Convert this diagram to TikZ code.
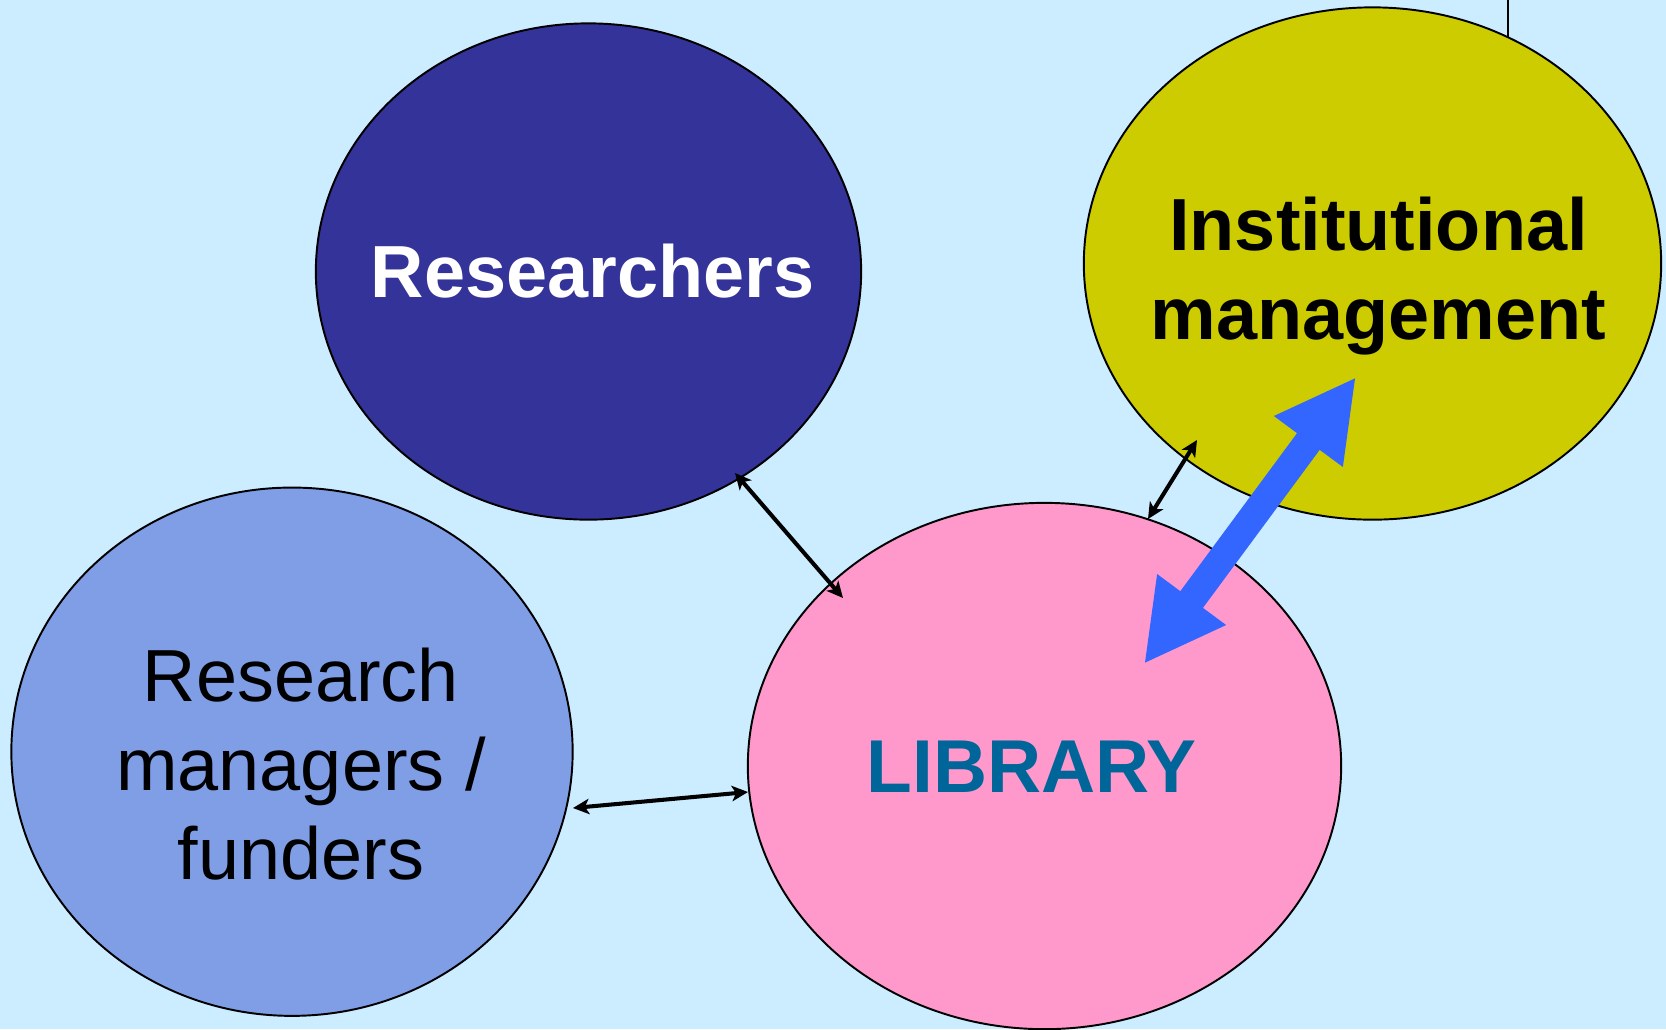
\documentclass[tikz,border=0pt]{standalone}
\usepackage{fontspec}
\setmainfont{Liberation Sans}
\usetikzlibrary{shapes.geometric,arrows.meta}
\definecolor{bg}{HTML}{CCECFF}
\definecolor{resblue}{HTML}{333399}
\definecolor{instyel}{HTML}{CCCC00}
\definecolor{mgrblue}{HTML}{809EE6}
\definecolor{libpink}{HTML}{FF99CC}
\definecolor{arrowblue}{HTML}{3366FF}
\definecolor{libtext}{HTML}{006699}
\begin{document}
\begin{tikzpicture}[x=0.01cm,y=-0.01cm,
  bubble/.style={ellipse,draw=black,line width=0.55pt,inner sep=0pt},
  lbl/.style={inner sep=0pt,align=center,font=\fontsize{21}{25}\selectfont},
  thinarrow/.style={line width=1.15pt,
    {Stealth[length=4.6pt,width=4.4pt,inset=1.2pt]}-{Stealth[length=4.6pt,width=4.4pt,inset=1.2pt]}},
  bigarrow/.style={line width=8pt,arrowblue,
    {Triangle[length=22.8pt,width=22.6pt]}-{Triangle[length=22.8pt,width=22.6pt]}}]
\fill[bg] (0,0) rectangle (1666,1029);
\useasboundingbox (0,0) rectangle (1666,1029);

\node[bubble,fill=resblue,minimum width=5.45cm,minimum height=4.96cm] (res) at (588.5,271.5) {};
\node[bubble,fill=mgrblue,minimum width=5.61cm,minimum height=5.28cm] (mgr) at (292,751.7) {};
\node[bubble,fill=instyel,minimum width=5.77cm,minimum height=5.12cm] (inst) at (1372.5,263.5) {};
\node[bubble,fill=libpink,minimum width=5.93cm,minimum height=5.26cm] (lib) at (1044.5,766) {};

\node[lbl,text=white,font=\fontsize{21}{25}\selectfont\bfseries]
  (rest) at ([shift={(4,0)}]res.center) {Researchers};
\node[lbl,text=black]
  (mgrt) at ([shift={(9,12)}]mgr.center) {Research\\[0.3pt]managers /\\[0.3pt]funders};
\node[lbl,text=black,font=\fontsize{21}{25.3}\selectfont\bfseries]
  (instt) at ([shift={(6,13)}]inst.center) {Institutional\\management};
\node[lbl,text=libtext,font=\fontsize{21.3}{25}\selectfont\bfseries]
  (libt) at ([shift={(-13,1)}]lib.center) {LIBRARY};

\coordinate (vtop) at (1508,0);
\coordinate (vbot) at (1508,37);
\draw[line width=0.6pt] (vtop) -- (vbot);

\coordinate (r1) at (735,473);
\coordinate (l1) at (843,598);
\draw[thinarrow] (r1) -- (l1);

\coordinate (m1) at (573,808);
\coordinate (l2) at (748,792);
\draw[thinarrow] (m1) -- (l2);

\coordinate (i1) at (1197,440);
\coordinate (l3) at (1148,519);
\draw[thinarrow] (i1) -- (l3);

\coordinate (bA) at (1356,377);
\coordinate (bB) at (1144,664);
\draw[bigarrow] (bB) -- (bA);
\end{tikzpicture}
\end{document}
